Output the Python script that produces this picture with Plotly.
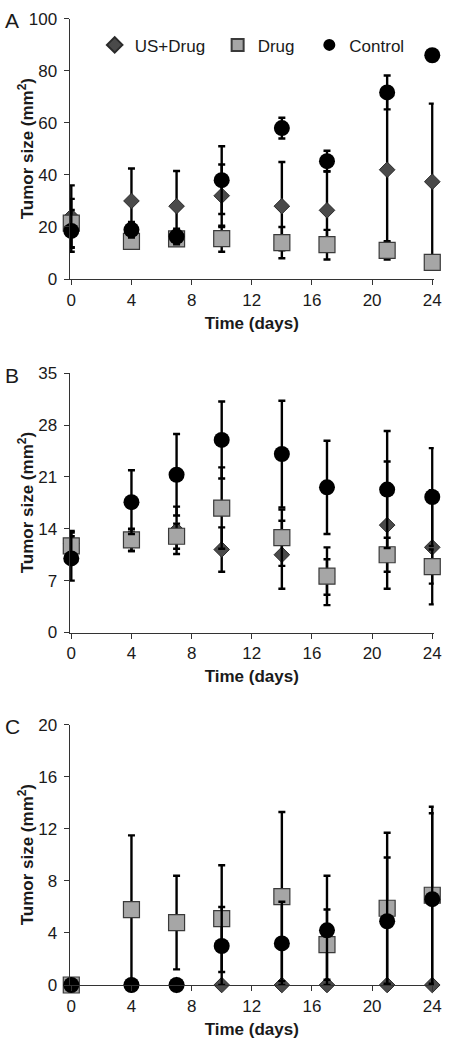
import plotly.graph_objects as go

days = [0, 4, 7, 10, 14, 17, 21, 24]
series_names = ["US+Drug", "Drug", "Control"]
x_ticks = [0, 4, 8, 12, 16, 20, 24]

# Panel A
a_us = [24, 30, 28, 32, 28, 26.4, 42, 37.4]
a_us_err = [12, 12.5, 13.5, 12, 17, 15, 28, 30]
a_drug = [21.5, 14.5, 15.4, 15.5, 14, 13.2, 11, 6.4]
a_drug_err = [9.3, 2.8, 2.5, 5, 6, 5.7, 3.5, 1]
a_ctrl = [18.5, 18.9, 16.3, 38, 58, 45.3, 71.7, 86]
a_ctrl_err = [8, 3, 3, 13, 4, 4, 6.5, 0]
a_yticks = [0, 20, 40, 60, 80, 100]

# Panel B
b_us = [12, 12.3, 13.8, 11.2, 10.5, 7.5, 14.5, 11.5]
b_us_err = [1.5, 1.3, 3.2, 3, 4.6, 2.4, 8.6, 7.7]
b_drug = [11.7, 12.5, 13, 16.8, 12.8, 7.6, 10.5, 8.9]
b_drug_err = [2, 1.5, 1.7, 5.5, 3.8, 3.9, 2.3, 2.3]
b_ctrl = [10, 17.6, 21.3, 26, 24.1, 19.6, 19.3, 18.3]
b_ctrl_err = [3, 4.3, 5.5, 5.2, 7.2, 6.3, 7.9, 6.6]
b_yticks = [0, 7, 14, 21, 28, 35]

# Panel C
c_us = [0, 0, 0, 0, 0, 0, 0, 0]
c_us_err = [0, 0, 0, 0, 0, 0, 0, 0]
c_drug = [0, 5.8, 4.8, 5.1, 6.8, 3.1, 5.9, 6.9]
c_drug_err = [0, 5.7, 3.6, 4.1, 6.5, 2.7, 5.8, 6.8]
c_ctrl = [0, 0, 0, 3.0, 3.2, 4.2, 4.9, 6.6]
c_ctrl_err = [0, 0, 0, 3.0, 3.2, 4.2, 4.9, 6.6]
c_yticks = [0, 4, 8, 12, 16, 20]

panel_letters = ["A", "B", "C"]
x_title = "Time (days)"
y_title = "Tumor size (mm<sup>2</sup>)"

FONT = "Liberation Sans, Arial, sans-serif"
W, H = 451, 1050

styles = {
    "US+Drug": dict(symbol="diamond", size=12, color="#4a4a4a", line=dict(color="#2a2a2a", width=1)),
    "Drug": dict(symbol="square", size=16, color="#a6a6a6", line=dict(color="#3a3a3a", width=1.2)),
    "Control": dict(symbol="circle", size=16, color="#000000", line=dict(color="#000000", width=0)),
}
legend_ids = {"US+Drug": "legend", "Drug": "legend2", "Control": "legend3"}

panels = [
    dict(data=[(a_us, a_us_err), (a_drug, a_drug_err), (a_ctrl, a_ctrl_err)], yr=[0, 100], yt=a_yticks, top=10, bot=275),
    dict(data=[(b_us, b_us_err), (b_drug, b_drug_err), (b_ctrl, b_ctrl_err)], yr=[0, 35], yt=b_yticks, top=371, bot=635),
    dict(data=[(c_us, c_us_err), (c_drug, c_drug_err), (c_ctrl, c_ctrl_err)], yr=[0, 20], yt=c_yticks, top=729, bot=994),
]

fig = go.Figure()
# day 0 sits at x=70 px, day 24 at x=440 px; a small pad keeps edge error bars unclipped
pad_days = 0.1
px_per_day = (440 - 70) / 24
left_px = 70 - pad_days * px_per_day
right_px = 440 + pad_days * px_per_day

for i, p in enumerate(panels):
    suffix = "" if i == 0 else str(i + 1)
    for name, (vals, errs) in zip(series_names, p["data"]):
        fig.add_trace(go.Scatter(
            x=days, y=vals, mode="markers", name=name,
            xaxis="x" + suffix, yaxis="y" + suffix,
            marker=styles[name],
            error_y=dict(type="data", array=errs, visible=True, color="black", thickness=2.4, width=3.5),
            cliponaxis=False,
            showlegend=(i == 0), legend=legend_ids[name], legendgroup=name,
        ))
    ax = dict(
        domain=[left_px / W, right_px / W], range=[-pad_days, 24 + pad_days], tickvals=x_ticks,
        showline=True, linecolor="#333", linewidth=1.3, ticks="outside", ticklen=5, tickcolor="#333",
        showgrid=False, zeroline=False, tickfont=dict(family=FONT, size=17, color="#1a1a1a"),
        title=dict(text="<b>" + x_title + "</b>", font=dict(family=FONT, size=17, color="#1a1a1a"), standoff=8),
        anchor="y" + suffix, fixedrange=True,
    )
    ay = dict(
        domain=[1 - p["bot"] / H, 1 - p["top"] / H], range=p["yr"], tickvals=p["yt"],
        showline=True, linecolor="#333", linewidth=1.3, ticks="outside", ticklen=5, tickcolor="#333",
        showgrid=False, zeroline=False, tickfont=dict(family=FONT, size=17, color="#1a1a1a"),
        anchor="x" + suffix, fixedrange=True, ticklabelstandoff=3,
    )
    fig.layout["xaxis" + suffix] = ax
    fig.layout["yaxis" + suffix] = ay
    fig.add_annotation(
        text=panel_letters[i], xref="paper", yref="paper", x=0, y=1 - (p["top"] + 2) / H,
        xanchor="left", yanchor="middle", showarrow=False,
        font=dict(family=FONT, size=21, color="#1a1a1a"),
    )
    # y-axis title (placed like the original, independent of tick label width)
    fig.add_annotation(
        text="<b>" + y_title + "</b>", xref="paper", yref="paper",
        x=23 / W, y=1 - (p["top"] + p["bot"]) / 2 / H, textangle=-90,
        xanchor="center", yanchor="middle", showarrow=False,
        font=dict(family=FONT, size=17, color="#1a1a1a"),
    )

legend_left = {"legend": 94, "legend2": 220, "legend3": 314}
leg_common = dict(orientation="h", yanchor="middle", xanchor="left", bgcolor="rgba(0,0,0,0)",
                  borderwidth=0, itemsizing="constant",
                  font=dict(family=FONT, size=17, color="#1a1a1a"))
fig.update_layout(
    width=W, height=H, margin=dict(l=0, r=0, t=0, b=0),
    paper_bgcolor="white", plot_bgcolor="white",
    legend=dict(x=legend_left["legend"] / W, y=1 - 37 / H, **leg_common),
    legend2=dict(x=legend_left["legend2"] / W, y=1 - 37 / H, **leg_common),
    legend3=dict(x=legend_left["legend3"] / W, y=1 - 37 / H, **leg_common),
)

fig.write_html(
    "out.html",
    config={"displayModeBar": False},
    post_script="document.body.style.margin='0px';document.body.style.padding='0px';document.body.style.overflow='hidden';",
)
